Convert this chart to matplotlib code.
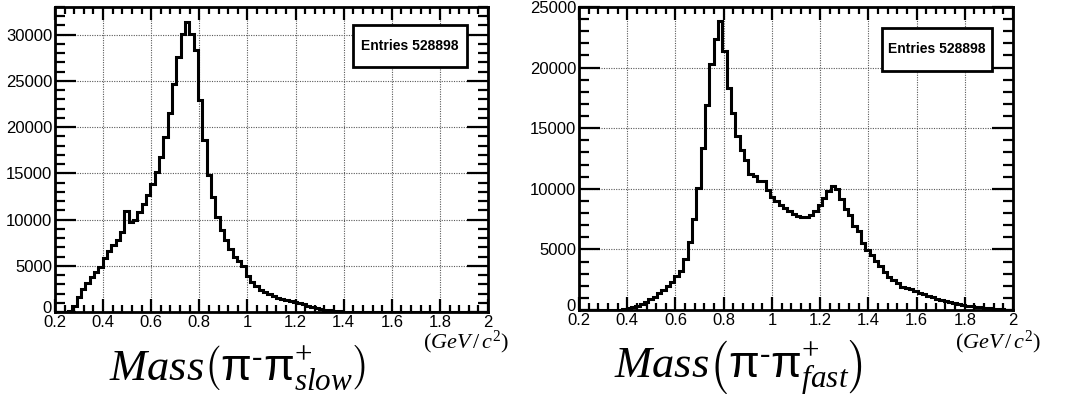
import matplotlib
matplotlib.use("Agg")
import matplotlib.pyplot as plt
import matplotlib.ticker as mticker
from matplotlib.patches import Rectangle
import numpy as np

# Binning shared by both histograms: 100 bins on [0.2, 2.0] GeV/c^2
x_lo, x_hi, n_bins = 0.2, 2.0, 100

# Bin contents
counts_slow = [
    0, 0, 0, 100, 600, 1650, 2450, 3150, 3750, 4350,
    4850, 5800, 6600, 7250, 7800, 8700, 10900, 9750, 10000, 10850,
    11700, 12650, 13900, 15170, 16800, 18950, 21480, 24720, 27600, 30130,
    31390, 30130, 28320, 22900, 18600, 14800, 12450, 10300, 8900, 7750,
    6850, 6000, 5500, 5000, 3850, 3300, 2800, 2400, 2150, 1950,
    1750, 1550, 1400, 1300, 1200, 1100, 950, 850, 700, 580,
    450, 350, 260, 180, 120, 70, 40, 20, 0, 0,
    0, 0, 0, 0, 0, 0, 0, 0, 0, 0,
    0, 0, 0, 0, 0, 0, 0, 0, 0, 0,
    0, 0, 0, 0, 0, 0, 0, 0, 0, 0,
]
counts_fast = [
    0, 0, 0, 0, 0, 0, 0, 0, 0, 30,
    80, 150, 250, 350, 500, 700, 880, 1100, 1380, 1650,
    1990, 2350, 2800, 3250, 4200, 5650, 7500, 10070, 13380, 16880,
    20280, 22340, 23860, 21380, 18290, 16280, 14340, 13240, 12360, 11260,
    11030, 10620, 10620, 9930, 9300, 9000, 8700, 8450, 8200, 7950,
    7750, 7650, 7700, 7850, 8150, 8700, 9200, 9800, 10250, 9950,
    9150, 8300, 7860, 6950, 6480, 5520, 4970, 4550, 4080, 3640,
    3170, 2760, 2480, 2210, 1930, 1790, 1710, 1570, 1430, 1300,
    1160, 1050, 940, 830, 720, 630, 550, 500, 410, 360,
    300, 280, 220, 170, 140, 110, 80, 60, 40, 20,
]
entries = 528898
ymax_slow = 33000
ymax_fast = 25000

title_slow = r"$Mass\left(\mathsf{\pi}^{\mathsf{\text{-}}}\mathsf{\pi}^{+}_{slow}\right)$"
title_fast = r"$Mass\left(\mathsf{\pi}^{\mathsf{\text{-}}}\mathsf{\pi}^{+}_{fast}\right)$"
unit_label = r"$(GeV\,/\,c^{2})$"

plt.rcParams.update(
    {
        "font.family": ["Liberation Sans", "DejaVu Sans"],
        "mathtext.fontset": "custom",
        "mathtext.rm": "Liberation Serif",
        "mathtext.it": "Liberation Serif:italic",
        "mathtext.sf": "Liberation Sans",
    }
)


def root_style(ax, ymax):
    """Mimic the ROOT TCanvas look: thick frame, inward ticks on all sides."""
    ax.set_xlim(x_lo, x_hi)
    ax.set_ylim(0, ymax)
    ax.xaxis.set_major_locator(mticker.MultipleLocator(0.2))
    ax.xaxis.set_minor_locator(mticker.MultipleLocator(0.04))
    ax.yaxis.set_major_locator(mticker.MultipleLocator(5000))
    ax.yaxis.set_minor_locator(mticker.MultipleLocator(1000))
    ax.xaxis.set_major_formatter(mticker.FuncFormatter(lambda v, _: f"{round(v, 2):g}"))
    # the "0" of the y axis is drawn separately, sitting just above the x labels
    ax.yaxis.set_major_formatter(
        mticker.FuncFormatter(lambda v, _: "" if abs(v) < 1 else f"{v:.0f}"))
    ax.tick_params(which="both", direction="in", top=True, right=True,
                   width=1.6, labelsize=12)
    ax.tick_params(axis="x", which="major", length=9.5, pad=2.5)
    ax.tick_params(axis="x", which="minor", length=5)
    ax.tick_params(axis="y", which="major", length=15, pad=2)
    ax.tick_params(axis="y", which="minor", length=7.5)
    for sp in ax.spines.values():
        sp.set_linewidth(2)
    ax.grid(which="major", ls=(0, (1, 1.2)), lw=0.8, color="0.35")
    ax.set_axisbelow(True)
    ax.annotate("0", xy=(0, 0), xycoords="axes fraction", xytext=(-2.5, -3),
                textcoords="offset points", ha="right", va="bottom", fontsize=12)


def stat_box(ax, x0, y0, x1, y1):
    ax.add_patch(Rectangle((x0, y0), x1 - x0, y1 - y0, transform=ax.transAxes,
                           facecolor="white", edgecolor="black", lw=2, zorder=5))
    ax.text((x0 + x1) / 2, (y0 + y1) / 2, f"Entries {entries}", transform=ax.transAxes,
            ha="center", va="center", fontsize=10, fontweight="bold", zorder=6)


edges = np.linspace(x_lo, x_hi, n_bins + 1)

fig = plt.figure(figsize=(10.73, 4.0), dpi=100)
ax1 = fig.add_axes([55 / 1073, 88 / 400, 433 / 1073, 305 / 400])
ax2 = fig.add_axes([579 / 1073, 90 / 400, 434 / 1073, 303 / 400])

ax1.stairs(counts_slow, edges, color="black", lw=2.2, zorder=3)
ax2.stairs(counts_fast, edges, color="black", lw=2.2, zorder=3)

root_style(ax1, ymax_slow)
root_style(ax2, ymax_fast)

stat_box(ax1, 0.688, 0.803, 0.951, 0.941)
stat_box(ax2, 0.698, 0.789, 0.952, 0.931)

fig.text(0.221, 0.08, title_slow, fontsize=32, ha="center", va="center")
fig.text(0.688, 0.08, title_fast, fontsize=32, ha="center", va="center")
fig.text(0.434, 0.143, unit_label, fontsize=16, ha="center", va="center")
fig.text(0.930, 0.143, unit_label, fontsize=16, ha="center", va="center")

fig.savefig("out.png", dpi=100)
